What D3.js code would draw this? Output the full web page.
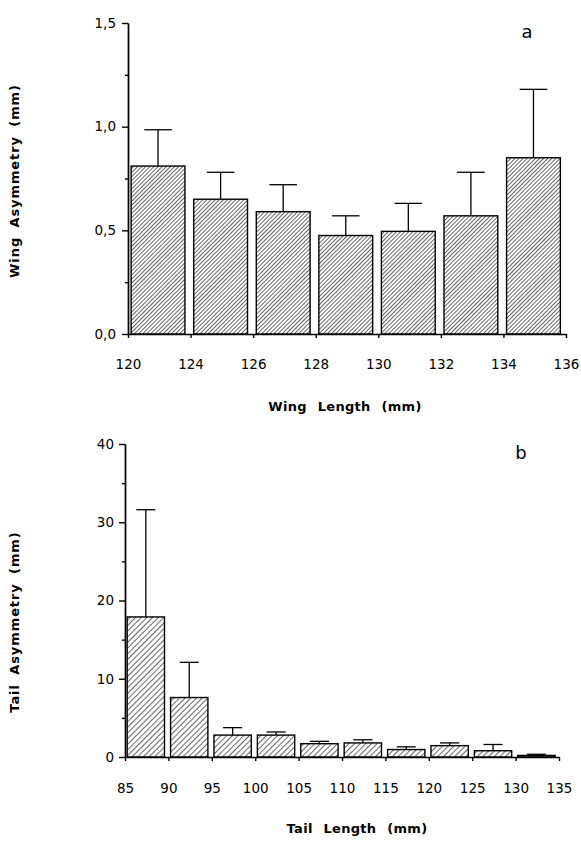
<!DOCTYPE html>
<html>
<head>
<meta charset="utf-8">
<script src="https://cdn.jsdelivr.net/npm/d3@7"></script>
<style>
  body { margin: 0; background: #fff; }
  text { font-family: "DejaVu Sans", Verdana, sans-serif; fill: #000; }
</style>
</head>
<body>
<svg id="chart" width="581" height="842"></svg>
<script>
// panel a: wing
var wingLabels = ["120", "124", "126", "128", "130", "132", "134", "136"];
var wingMeans = [0.81, 0.65, 0.59, 0.475, 0.495, 0.57, 0.85];
var wingErrors = [0.175, 0.13, 0.13, 0.095, 0.135, 0.21, 0.33];
var wingTicks = [0, 0.5, 1.0, 1.5];
var wingMinor = [0.25, 0.75, 1.25];

// panel b: tail
var tailLabels = ["85", "90", "95", "100", "105", "110", "115", "120", "125", "130", "135"];
var tailMeans = [17.9, 7.6, 2.8, 2.8, 1.7, 1.8, 0.95, 1.45, 0.8, 0.2];
var tailErrors = [13.7, 4.5, 0.95, 0.4, 0.3, 0.4, 0.35, 0.35, 0.8, 0.15];
var tailTicks = [0, 10, 20, 30, 40];
var tailMinor = [5, 15, 25, 35];

var svg = d3.select("#chart");
var defs = svg.append("defs");

function addHatch(id, gap) {
    var p = defs.append("pattern")
        .attr("id", id)
        .attr("patternUnits", "userSpaceOnUse")
        .attr("width", gap)
        .attr("height", gap)
        .attr("patternTransform", "rotate(45)");
    p.append("rect").attr("width", gap).attr("height", gap).attr("fill", "#fff");
    p.append("line")
        .attr("x1", 0).attr("y1", 0)
        .attr("x2", 0).attr("y2", gap)
        .attr("stroke", "#000")
        .attr("stroke-width", 1.2);
}
addHatch("hatchA", 2.9);
addHatch("hatchB", 4);

var createBarPanel = function (opt) {
    var n = opt.means.length;
    var x = d3.scaleLinear().domain([0, n]).range([opt.left, opt.right]);
    var y = d3.scaleLinear().domain([0, opt.max]).range([opt.bottom, opt.top]);
    var bin = x(1) - x(0);
    var g = svg.append("g");

    // bars
    g.selectAll("rect.bar")
        .data(opt.means)
        .enter().append("rect")
        .attr("class", "bar")
        .attr("x", function (d, i) { return x(i) + bin * 0.05; })
        .attr("width", bin * 0.86)
        .attr("y", function (d) { return y(d); })
        .attr("height", function (d) { return y(0) - y(d); })
        .attr("fill", "url(#" + opt.hatch + ")")
        .attr("stroke", "#000")
        .attr("stroke-width", 1.4);

    // error bars (upper only)
    var err = g.selectAll("g.err")
        .data(opt.means)
        .enter().append("g")
        .attr("class", "err")
        .attr("stroke", "#000")
        .attr("stroke-width", 1.3);
    err.append("line")
        .attr("x1", function (d, i) { return x(i) + bin * 0.48; })
        .attr("x2", function (d, i) { return x(i) + bin * 0.48; })
        .attr("y1", function (d) { return y(d); })
        .attr("y2", function (d, i) { return y(d + opt.errors[i]); });
    err.append("line")
        .attr("x1", function (d, i) { return x(i) + bin * 0.48 - bin * 0.22; })
        .attr("x2", function (d, i) { return x(i) + bin * 0.48 + bin * 0.22; })
        .attr("y1", function (d, i) { return y(d + opt.errors[i]); })
        .attr("y2", function (d, i) { return y(d + opt.errors[i]); });

    // y axis
    g.append("g")
        .attr("transform", "translate(" + opt.left + ",0)")
        .call(d3.axisLeft(y)
            .tickValues(opt.ticks)
            .tickSize(6)
            .tickSizeOuter(0)
            .tickPadding(opt.yPad)
            .tickFormat(opt.format));
    g.append("g")
        .attr("transform", "translate(" + opt.left + ",0)")
        .call(d3.axisLeft(y).tickValues(opt.minor).tickSize(3).tickSizeOuter(0).tickFormat(""));

    // x axis
    g.append("g")
        .attr("transform", "translate(0," + opt.bottom + ")")
        .call(d3.axisBottom(x)
            .tickValues(d3.range(n + 1))
            .tickSize(4)
            .tickSizeOuter(0)
            .tickPadding(opt.xPad)
            .tickFormat(function (i) { return opt.labels[i]; }));

    g.selectAll(".domain, .tick line").attr("stroke", "#000").attr("stroke-width", 1.4);
    g.selectAll(".tick text").style("font-size", "13.5px").attr("fill", "#000");

    // axis titles
    g.append("text")
        .attr("x", opt.xTitle[0])
        .attr("y", opt.xTitle[1])
        .attr("text-anchor", "middle")
        .style("font-size", "13px")
        .style("font-weight", "bold")
        .style("letter-spacing", "0.3px")
        .style("word-spacing", "6px")
        .text(opt.xLabel);
    g.append("text")
        .attr("transform", "translate(" + opt.yTitle[0] + "," + opt.yTitle[1] + ") rotate(-90)")
        .attr("text-anchor", "middle")
        .style("font-size", "13px")
        .style("font-weight", "bold")
        .style("letter-spacing", "0.9px")
        .style("word-spacing", "4px")
        .text(opt.yLabel);

    // panel letter
    g.append("text")
        .attr("x", opt.letterPos[0])
        .attr("y", opt.letterPos[1])
        .attr("text-anchor", "middle")
        .style("font-size", "18px")
        .text(opt.letter);
};

var commaFormat = function (d) { return d3.format(".1f")(d).replace(".", ","); };

createBarPanel({
    means: wingMeans, errors: wingErrors, labels: wingLabels,
    ticks: wingTicks, minor: wingMinor, max: 1.5,
    left: 128, right: 566, top: 23, bottom: 334,
    yPad: 6, xPad: 21, format: commaFormat, hatch: "hatchA",
    xLabel: "Wing Length (mm)", xTitle: [345, 411],
    yLabel: "Wing Asymmetry (mm)", yTitle: [19, 181],
    letter: "a", letterPos: [527, 38]
});

createBarPanel({
    means: tailMeans, errors: tailErrors, labels: tailLabels,
    ticks: tailTicks, minor: tailMinor, max: 40,
    left: 125, right: 559, top: 444, bottom: 757,
    yPad: 5, xPad: 22, format: d3.format("d"), hatch: "hatchB",
    xLabel: "Tail Length (mm)", xTitle: [357, 833],
    yLabel: "Tail Asymmetry (mm)", yTitle: [19, 622],
    letter: "b", letterPos: [521, 459]
});
</script>
</body>
</html>
